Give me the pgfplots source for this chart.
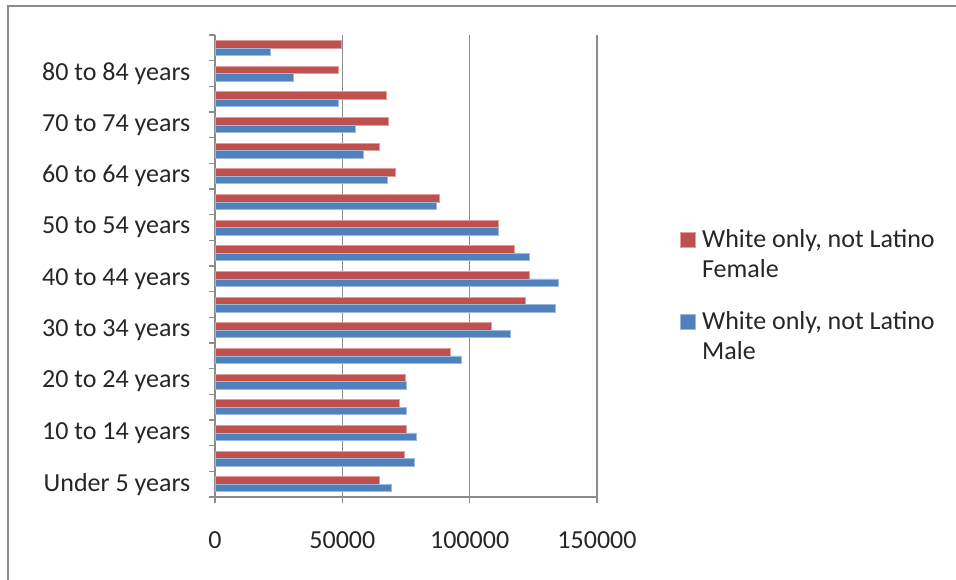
\documentclass[border=0pt]{standalone}
\usepackage{pgfplots}
\pgfplotsset{compat=1.18}
\usepackage{fontspec}
\setmainfont{Carlito}

\definecolor{femred}{HTML}{C0504D}
\definecolor{maleblue}{HTML}{4F81BD}
\definecolor{gridgray}{HTML}{8C8C8C}
\definecolor{framegray}{HTML}{8A8A8A}

\begin{document}
\begin{tikzpicture}[x=0.75pt,y=0.75pt]
\useasboundingbox (0,0) rectangle (956,579);
% outer frame (top and left edges)
\draw[framegray, line width=1.6pt] (8,-5) -- (8,573) -- (960,573);

\begin{axis}[
  at={(161.25pt,61.5pt)}, anchor=south west,
  scale only axis,
  width=286.5pt, height=346.5pt,
  xbar, bar width=5.6pt,
  xmin=0, xmax=150000,
  ymin=-0.5, ymax=17.5,
  axis lines*=left,
  axis line style={gridgray, line width=1.1pt},
  xmajorgrids,
  grid style={gridgray, line width=1.2pt},
  xtick={0,50000,100000,150000},
  scaled x ticks=false,
  /pgf/number format/assume math mode=true,
  /pgf/number format/1000 sep={},
  /pgf/number format/fixed,
  tick align=outside,
  major tick length=4.5pt,
  tick style={gridgray, line width=1.1pt},
  ytick={-0.5,0.5,...,17.5},
  yticklabels={},
  extra y ticks={0,2,4,6,8,10,12,14,16},
  extra y tick labels={Under 5 years,10 to 14 years,20 to 24 years,30 to 34 years,40 to 44 years,50 to 54 years,60 to 64 years,70 to 74 years,80 to 84 years},
  extra y tick style={major tick length=0pt, yticklabel style={xshift=-15pt}},
  ticklabel style={font=\fontsize{19.5}{23}\selectfont, text=black!85},
  xticklabel style={yshift=-18pt},
  legend style={draw=none, fill=none, at={(axis description cs:1.205,0.585)}, anchor=north west,
    font=\fontsize{19.5}{22.5}\selectfont, row sep=24pt,
    nodes={align=left, inner sep=0pt, text=black!85}},
  legend cell align=left,
  legend image code/.code={
    \fill[#1] (0pt,5.6pt) rectangle (11.25pt,16.85pt);
    \path (16.5pt,0pt);},
]
% Female bars sit above the male bar in each age group
\addplot[fill=femred, draw=femred!55!white, line width=0.4pt, bar shift=2.8pt] coordinates {
  (64600,0) (74150,1) (75200,2) (72200,3) (74550,4) (92250,5)
  (108400,6) (121850,7) (123450,8) (117400,9) (111400,10) (88200,11)
  (70650,12) (64600,13) (68150,14) (67100,15) (48500,16) (49700,17)
};
\addlegendentry{White only, not Latino\\Female}
\addplot[fill=maleblue, draw=maleblue!55!white, line width=0.4pt, bar shift=-2.8pt] coordinates {
  (69050,0) (78200,1) (79150,2) (75200,3) (75200,4) (96850,5)
  (115950,6) (133550,7) (134600,8) (123450,9) (111400,10) (86750,11)
  (67600,12) (58050,13) (55050,14) (48350,15) (30800,16) (21800,17)
};
\addlegendentry{White only, not Latino\\Male}
\end{axis}
\end{tikzpicture}
\end{document}
